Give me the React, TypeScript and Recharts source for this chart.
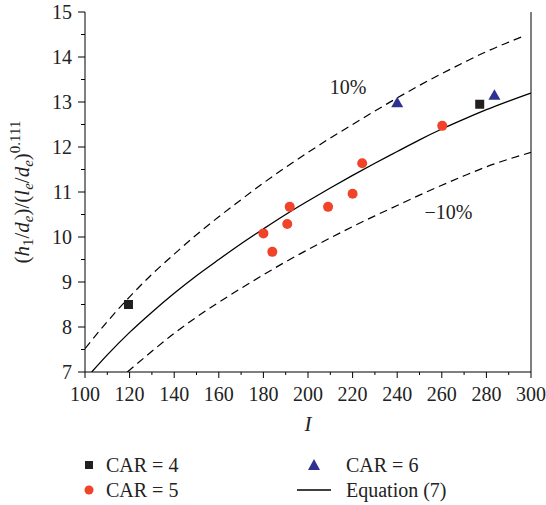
import React from 'react';
import {
	ComposedChart,
	Line,
	Scatter,
	XAxis,
	YAxis,
	ReferenceLine,
	ReferenceDot,
} from 'recharts';

// measured points
const car4 = [
	{ I: 119.5, v: 8.5 },
	{ I: 277, v: 12.95 },
];
const car5 = [
	{ I: 180, v: 10.08 },
	{ I: 184, v: 9.67 },
	{ I: 190.7, v: 10.29 },
	{ I: 191.8, v: 10.67 },
	{ I: 209, v: 10.67 },
	{ I: 220, v: 10.96 },
	{ I: 224.3, v: 11.64 },
	{ I: 260.2, v: 12.47 },
];
const car6 = [
	{ I: 240, v: 12.97 },
	{ I: 283.6, v: 13.14 },
];

// Equation (7) and the +/-10% bands
const equation = [
	{ I: 103, v: 7.0 }, { I: 110, v: 7.38 }, { I: 120, v: 7.88 }, { I: 130, v: 8.33 },
	{ I: 140, v: 8.75 }, { I: 150, v: 9.14 }, { I: 160, v: 9.5 }, { I: 170, v: 9.85 },
	{ I: 180, v: 10.18 }, { I: 190, v: 10.5 }, { I: 200, v: 10.8 }, { I: 210, v: 11.09 },
	{ I: 220, v: 11.37 }, { I: 230, v: 11.64 }, { I: 240, v: 11.9 }, { I: 250, v: 12.16 },
	{ I: 260, v: 12.4 }, { I: 270, v: 12.62 }, { I: 280, v: 12.83 }, { I: 290, v: 13.02 },
	{ I: 300, v: 13.2 },
];
const upper = [
	{ I: 100, v: 7.52 }, { I: 110, v: 8.12 }, { I: 120, v: 8.67 }, { I: 130, v: 9.17 },
	{ I: 140, v: 9.62 }, { I: 150, v: 10.05 }, { I: 160, v: 10.45 }, { I: 170, v: 10.83 },
	{ I: 180, v: 11.2 }, { I: 190, v: 11.55 }, { I: 200, v: 11.88 }, { I: 210, v: 12.2 },
	{ I: 220, v: 12.5 }, { I: 230, v: 12.8 }, { I: 240, v: 13.09 }, { I: 250, v: 13.37 },
	{ I: 260, v: 13.63 }, { I: 270, v: 13.88 }, { I: 280, v: 14.12 }, { I: 290, v: 14.33 },
	{ I: 297, v: 14.47 },
];
const lower = [
	{ I: 119, v: 7.0 }, { I: 130, v: 7.46 }, { I: 140, v: 7.86 }, { I: 150, v: 8.22 },
	{ I: 160, v: 8.55 }, { I: 170, v: 8.86 }, { I: 180, v: 9.16 }, { I: 190, v: 9.45 },
	{ I: 200, v: 9.72 }, { I: 210, v: 9.98 }, { I: 220, v: 10.23 }, { I: 230, v: 10.47 },
	{ I: 240, v: 10.7 }, { I: 250, v: 10.93 }, { I: 260, v: 11.15 }, { I: 270, v: 11.36 },
	{ I: 280, v: 11.56 }, { I: 290, v: 11.73 }, { I: 300, v: 11.88 },
];

const xTicks = [100, 110, 120, 130, 140, 150, 160, 170, 180, 190, 200, 210, 220, 230, 240, 250, 260, 270, 280, 290, 300];
const yTicks = [7, 7.5, 8, 8.5, 9, 9.5, 10, 10.5, 11, 11.5, 12, 12.5, 13, 13.5, 14, 14.5, 15];
const bandLabels = [
	{ text: '10%', I: 218, v: 13.33 },
	{ text: '\u221210%', I: 263, v: 10.56 },
];

const FONT = '"Times New Roman", Times, "Liberation Serif", "DejaVu Serif", serif';
const RED = '#F0432A';
const BLUE = '#2E3192';
const BLACK = '#231F20';

const XTick = ({ x, y, payload }: any) => {
	const major = payload.value % 20 === 0;
	return (
		<g>
			<line x1={x} x2={x} y1={y} y2={y + (major ? 6 : 3)} stroke="#000" />
			{major && (
				<text x={x} y={y + 29} textAnchor="middle" fontSize={20} style={{ fontFamily: FONT }} fill="#222">
					{payload.value}
				</text>
			)}
		</g>
	);
};

const YTick = ({ x, y, payload }: any) => {
	const major = Number.isInteger(payload.value);
	return (
		<g>
			<line x1={x - (major ? 7 : 4)} x2={x} y1={y} y2={y} stroke="#000" />
			{major && (
				<text x={x - 13} y={y} dy="0.35em" textAnchor="end" fontSize={20} style={{ fontFamily: FONT }} fill="#222">
					{payload.value}
				</text>
			)}
		</g>
	);
};

const Square = ({ cx, cy }: any) => <rect x={cx - 4.5} y={cy - 4.5} width={9} height={9} fill={BLACK} />;
const Dot = ({ cx, cy }: any) => <circle cx={cx} cy={cy} r={5} fill={RED} />;
const Tri = ({ cx, cy }: any) => (
	<polygon points={`${cx},${cy - 6.5} ${cx + 6},${cy + 4} ${cx - 6},${cy + 4}`} fill={BLUE} />
);

const YLabel = ({ viewBox }: any) => {
	const cx = 22;
	const cy = viewBox.y + viewBox.height / 2;
	return (
		<text
			x={cx}
			y={cy}
			transform={`rotate(-90 ${cx} ${cy})`}
			textAnchor="middle"
			dy="0.35em"
			fontSize={21}
			style={{ fontFamily: FONT }}
			fill="#222"
		>
			<tspan>(</tspan>
			<tspan fontStyle="italic">h</tspan>
			<tspan fontSize={15} dy={4}>1</tspan>
			<tspan dy={-4}>/</tspan>
			<tspan fontStyle="italic">d</tspan>
			<tspan fontSize={15} fontStyle="italic" dy={4}>e</tspan>
			<tspan dy={-4}>)/(</tspan>
			<tspan fontStyle="italic">l</tspan>
			<tspan fontSize={15} fontStyle="italic" dy={4}>e</tspan>
			<tspan dy={-4}>/</tspan>
			<tspan fontStyle="italic">d</tspan>
			<tspan fontSize={15} fontStyle="italic" dy={4}>e</tspan>
			<tspan dy={-4}>)</tspan>
			<tspan fontSize={15} dy={-9}>0.111</tspan>
		</text>
	);
};

const XLabel = ({ viewBox }: any) => (
	<text
		x={viewBox.x + viewBox.width / 2}
		y={viewBox.y + 59}
		textAnchor="middle"
		fontSize={21}
		fontStyle="italic"
		style={{ fontFamily: FONT }}
		fill="#222"
	>
		I
	</text>
);

const legendText: React.CSSProperties = {
	position: 'absolute',
	fontSize: 20,
	fontFamily: FONT,
	color: '#222',
	lineHeight: '20px',
	whiteSpace: 'nowrap',
};

function ChartLegend() {
	return (
		<>
			<svg style={{ position: 'absolute', left: 0, top: 450 }} width={546} height={55}>
				<rect x={85} y={11} width={8} height={8} fill={BLACK} />
				<circle cx={89} cy={40} r={4.5} fill={RED} />
				<polygon points="314,9 320,20 308,20" fill={BLUE} />
				<line x1={297} x2={331} y1={40} y2={40} stroke="#000" strokeWidth={1.3} />
			</svg>
			<div style={{ ...legendText, left: 106, top: 455 }}>CAR = 4</div>
			<div style={{ ...legendText, left: 106, top: 480 }}>CAR = 5</div>
			<div style={{ ...legendText, left: 346, top: 455 }}>CAR = 6</div>
			<div style={{ ...legendText, left: 346, top: 480 }}>Equation (7)</div>
		</>
	);
}

export default function App() {
	return (
		<div style={{ position: 'absolute', left: 0, top: 0, width: 546, height: 505, background: '#fff', fontFamily: FONT }}>
			<ComposedChart width={546} height={505} margin={{ top: 12, right: 15, bottom: 73, left: 0 }}>
				<XAxis
					type="number"
					dataKey="I"
					domain={[100, 300]}
					ticks={xTicks}
					interval={0}
					tickSize={0}
					tickMargin={0}
					tickLine={false}
					tick={<XTick />}
					height={60}
					axisLine={{ stroke: '#000' }}
					allowDataOverflow
					label={<XLabel />}
				/>
				<YAxis
					type="number"
					dataKey="v"
					domain={[7, 15]}
					ticks={yTicks}
					interval={0}
					tickSize={0}
					tickMargin={0}
					tickLine={false}
					tick={<YTick />}
					width={85}
					axisLine={{ stroke: '#000' }}
					allowDataOverflow
					label={<YLabel />}
				/>
				<ReferenceLine x={300} stroke="#000" />
				<Line data={upper} dataKey="v" type="monotone" stroke="#000" strokeWidth={1.2} strokeDasharray="8 5" dot={false} isAnimationActive={false} />
				<Line data={lower} dataKey="v" type="monotone" stroke="#000" strokeWidth={1.2} strokeDasharray="8 5" dot={false} isAnimationActive={false} />
				<Line data={equation} dataKey="v" type="monotone" stroke="#000" strokeWidth={1.3} dot={false} isAnimationActive={false} />
				<Scatter data={car4} dataKey="v" shape={<Square />} isAnimationActive={false} />
				<Scatter data={car5} dataKey="v" shape={<Dot />} isAnimationActive={false} />
				<Scatter data={car6} dataKey="v" shape={<Tri />} isAnimationActive={false} />
				{bandLabels.map((b) => (
					<ReferenceDot
						key={b.text}
						x={b.I}
						y={b.v}
						r={0}
						stroke="none"
						label={{ value: b.text, position: 'center', fontSize: 20, style: { fontFamily: FONT }, fill: '#222' }}
					/>
				))}
			</ComposedChart>
			<ChartLegend />
		</div>
	);
}
